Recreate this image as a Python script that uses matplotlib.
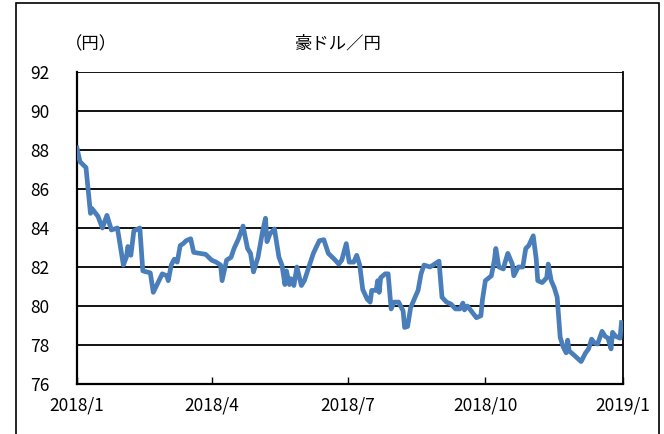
import matplotlib
matplotlib.use("Agg")
import matplotlib.pyplot as plt
import pandas as pd
from matplotlib.patches import Rectangle

plt.rcParams['font.family'] = ['Noto Sans CJK JP', 'DejaVu Sans']

title = "豪ドル／円"
unit_label = "（円）"

dates = [
    "2018-01-01", "2018-01-03", "2018-01-07", "2018-01-10", "2018-01-11", "2018-01-15",
    "2018-01-18", "2018-01-21", "2018-01-24", "2018-01-28", "2018-02-01", "2018-02-03",
    "2018-02-04", "2018-02-06", "2018-02-08", "2018-02-12", "2018-02-14", "2018-02-19",
    "2018-02-21", "2018-02-27", "2018-03-02", "2018-03-03", "2018-03-05", "2018-03-07",
    "2018-03-09", "2018-03-11", "2018-03-13", "2018-03-15", "2018-03-18", "2018-03-20",
    "2018-03-24", "2018-03-28", "2018-04-01", "2018-04-04", "2018-04-07", "2018-04-08",
    "2018-04-11", "2018-04-14", "2018-04-16", "2018-04-19", "2018-04-22", "2018-04-25",
    "2018-04-27", "2018-04-29", "2018-05-02", "2018-05-04", "2018-05-05", "2018-05-07",
    "2018-05-08", "2018-05-10", "2018-05-13", "2018-05-16", "2018-05-18", "2018-05-20",
    "2018-05-21", "2018-05-23", "2018-05-24", "2018-05-26", "2018-05-28", "2018-05-31",
    "2018-06-02", "2018-06-05", "2018-06-08", "2018-06-12", "2018-06-15", "2018-06-18",
    "2018-06-22", "2018-06-25", "2018-06-27", "2018-06-30", "2018-07-02", "2018-07-05",
    "2018-07-07", "2018-07-09", "2018-07-11", "2018-07-14", "2018-07-16", "2018-07-17",
    "2018-07-20", "2018-07-21", "2018-07-22", "2018-07-23", "2018-07-26", "2018-07-28",
    "2018-07-30", "2018-08-01", "2018-08-04", "2018-08-07", "2018-08-08", "2018-08-10",
    "2018-08-12", "2018-08-15", "2018-08-17", "2018-08-19", "2018-08-21", "2018-08-25",
    "2018-08-28", "2018-08-30", "2018-08-31", "2018-09-02", "2018-09-05", "2018-09-08",
    "2018-09-11", "2018-09-14", "2018-09-16", "2018-09-17", "2018-09-19", "2018-09-23",
    "2018-09-25", "2018-09-28", "2018-09-29", "2018-10-01", "2018-10-05", "2018-10-07",
    "2018-10-08", "2018-10-10", "2018-10-13", "2018-10-14", "2018-10-16", "2018-10-19",
    "2018-10-20", "2018-10-23", "2018-10-26", "2018-10-28", "2018-10-30", "2018-11-02",
    "2018-11-04", "2018-11-05", "2018-11-08", "2018-11-11", "2018-11-12", "2018-11-14",
    "2018-11-16", "2018-11-18", "2018-11-19", "2018-11-20", "2018-11-22", "2018-11-24",
    "2018-11-25", "2018-11-26", "2018-11-29", "2018-12-04", "2018-12-07", "2018-12-09",
    "2018-12-11", "2018-12-13", "2018-12-15", "2018-12-18", "2018-12-20", "2018-12-22",
    "2018-12-24", "2018-12-25", "2018-12-27", "2018-12-30", "2018-12-31",
]

aud_jpy = [
    88.1, 87.4, 87.1, 84.75, 85.0, 84.6,
    84.0, 84.65, 83.9, 84.0, 82.1, 82.5,
    83.05, 82.6, 83.85, 84.0, 81.8, 81.7,
    80.7, 81.65, 81.55, 81.3, 82.1, 82.4,
    82.25, 83.1, 83.2, 83.35, 83.45, 82.75,
    82.7, 82.65, 82.35, 82.25, 82.1, 81.3,
    82.35, 82.5, 82.95, 83.45, 84.1, 82.95,
    82.7, 81.75, 82.5, 83.35, 83.8, 84.5,
    83.3, 83.7, 83.95, 82.5, 82.1, 81.1,
    81.8, 81.1, 81.4, 81.05, 82.0, 81.05,
    81.3, 82.0, 82.7, 83.35, 83.4, 82.7,
    82.4, 82.15, 82.35, 83.2, 82.25, 82.25,
    82.6, 82.1, 80.85, 80.35, 80.2, 80.8,
    80.8, 81.3, 80.7, 81.45, 81.65, 81.65,
    79.85, 80.2, 80.2, 79.75, 78.9, 78.95,
    79.9, 80.45, 80.8, 81.65, 82.1, 82.0,
    82.15, 82.25, 82.3, 80.45, 80.2, 80.1,
    79.85, 79.85, 80.15, 79.8, 80.0, 79.6,
    79.4, 79.5, 80.3, 81.3, 81.55, 82.35,
    82.95, 82.0, 81.9, 82.2, 82.7, 82.15,
    81.55, 82.0, 82.0, 82.95, 83.1, 83.6,
    82.4, 81.3, 81.2, 81.45, 82.15, 81.3,
    80.95, 80.45, 79.4, 78.4, 77.9, 77.6,
    78.25, 77.7, 77.5, 77.15, 77.6, 77.8,
    78.3, 78.1, 78.05, 78.7, 78.45, 78.35,
    77.8, 78.65, 78.45, 78.35, 79.15,
]

x_ticks = ["2018-01-01", "2018-04-01", "2018-07-01", "2018-10-01", "2019-01-01"]
x_tick_labels = ["2018/1", "2018/4", "2018/7", "2018/10", "2019/1"]
y_ticks = [76, 78, 80, 82, 84, 86, 88, 90, 92]

W, H = 664, 434
fig = plt.figure(figsize=(W / 100, H / 100), dpi=100)
ax = fig.add_axes([77 / W, 1 - 384 / H, (623 - 77) / W, (384 - 72) / H])

d = pd.to_datetime(dates)
ax.plot(d, aud_jpy, color="#4a7ebb", lw=3.4, solid_joinstyle="round", zorder=3)

ax.set_ylim(76, 92)
ax.set_yticks(y_ticks)
ax.set_yticklabels([str(v) for v in y_ticks], fontsize=12.5)
ax.set_xlim(pd.Timestamp("2018-01-01"), pd.Timestamp("2019-01-01"))
ax.set_xticks(pd.to_datetime(x_ticks))
ax.set_xticklabels(x_tick_labels, fontsize=12.5)

ax.yaxis.grid(True, color="black", lw=1.3, zorder=1)
ax.tick_params(axis="y", length=0, pad=20)
ax.tick_params(axis="x", direction="in", length=5, width=1, pad=9)
for s in ax.spines.values():
    s.set_color("black")
    s.set_linewidth(1.3)
ax.spines["top"].set_visible(False)
ax.spines["left"].set_linewidth(1.6)
ax.spines["bottom"].set_linewidth(1.6)

fig.text(338 / W, 1 - 44 / H, title, ha="center", va="center", fontsize=12.5)
fig.text(91 / W, 1 - 44 / H, unit_label, ha="center", va="center", fontsize=12.5)

fig.patches.append(Rectangle((16 / W, -0.02), (659 - 16) / W, 1 - 3 / H + 0.02,
                             transform=fig.transFigure, fill=False,
                             edgecolor="black", lw=1.2))

fig.savefig("out.png", dpi=100)
